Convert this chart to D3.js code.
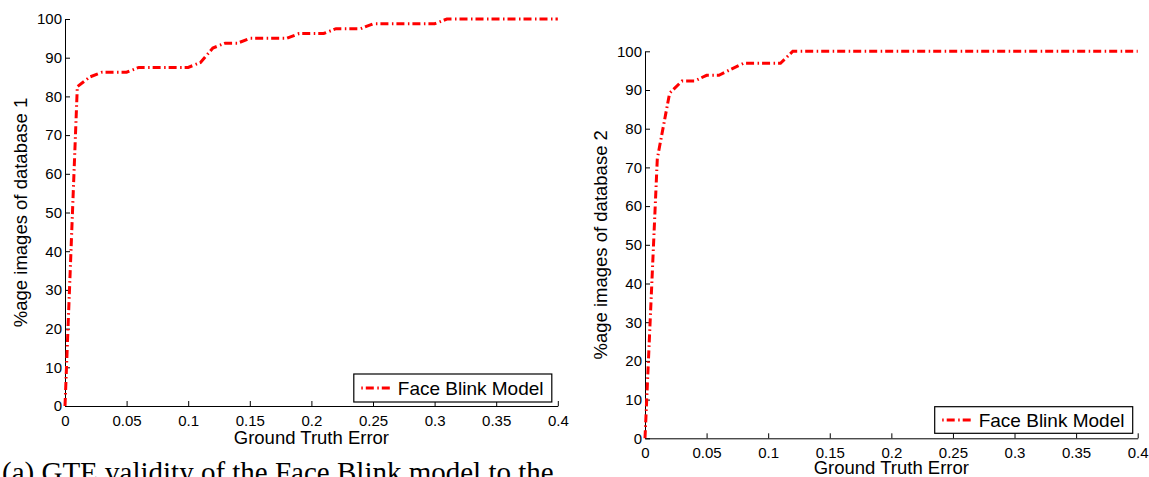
<!DOCTYPE html>
<html><head><meta charset="utf-8">
<script src="https://cdn.jsdelivr.net/npm/d3@7"></script>
<style>
html,body{margin:0;padding:0;background:#fff;overflow:hidden;}
svg{display:block;}
text{font-family:"Liberation Sans",Arial,sans-serif;fill:#000;}
</style></head>
<body>
<svg id="chart" width="1149" height="477"></svg>
<script>
// ---- data ----
const errors = [0,0.01,0.02,0.03,0.04,0.05,0.06,0.07,0.08,0.09,0.10,0.11,0.12,0.13,0.14,0.15,0.16,0.17,0.18,0.19,0.20,
  0.21,0.22,0.23,0.24,0.25,0.26,0.27,0.28,0.29,0.30,0.31,0.32,0.33,0.34,0.35,0.36,0.37,0.38,0.39,0.40];
const db1Values = [0,82.5,85,86.25,86.25,86.25,87.5,87.5,87.5,87.5,87.5,88.75,92.5,93.75,93.75,95,95,95,95,96.25,96.25,
  96.25,97.5,97.5,97.5,98.75,98.75,98.75,98.75,98.75,98.75,100,100,100,100,100,100,100,100,100,100];
const db2Values = [0,72.3,89.2,92.3,92.3,93.8,93.8,95.4,96.9,96.9,96.9,96.9,100,100,100,100,100,100,100,100,100,
  100,100,100,100,100,100,100,100,100,100,100,100,100,100,100,100,100,100,100,100];
const xTickValues = [0,0.05,0.1,0.15,0.2,0.25,0.3,0.35,0.4];
const xTickLabels = ["0","0.05","0.1","0.15","0.2","0.25","0.3","0.35","0.4"];
const yTickValues = [0,10,20,30,40,50,60,70,80,90,100];
const yTickLabels = ["0","10","20","30","40","50","60","70","80","90","100"];
const seriesName = "Face Blink Model";
const xLabel = "Ground Truth Error";
const yLabels = ["%age images of database 1","%age images of database 2"];
const caption = "(a) GTE validity of the Face Blink model to the";

const svg = d3.select("#chart");
const DASH = "8,3.5,1.5,3";

const panels = [
  {vals: db1Values, yl: yLabels[0], xr:[65,557.8], yr:[406,19], ylabX:27, xlabY:443.5, legH:28, legOffB:4, legOffR:6},
  {vals: db2Values, yl: yLabels[1], xr:[645,1137.7], yr:[438.3,51.3], ylabX:607, xlabY:474, legH:26.6, legOffB:5, legOffR:5}
];

panels.forEach(p => {
  const x = d3.scaleLinear().domain([0,0.4]).range(p.xr);
  const y = d3.scaleLinear().domain([0,100]).range(p.yr);
  const g = svg.append("g");

  const xa = d3.axisBottom(x).tickValues(xTickValues).tickFormat((d,i)=>xTickLabels[i])
    .tickSizeInner(-5).tickSizeOuter(0).tickPadding(9);
  const gx = g.append("g").attr("transform",`translate(0,${p.yr[0]})`).call(xa);
  const ya = d3.axisLeft(y).tickValues(yTickValues).tickFormat((d,i)=>yTickLabels[i])
    .tickSizeInner(-5).tickSizeOuter(0).tickPadding(3);
  const gy = g.append("g").attr("transform",`translate(${p.xr[0]},0)`).call(ya);
  [gx,gy].forEach(a=>{
    a.selectAll("text").style("font-size","15px").attr("fill","#000").style("font-family","'Liberation Sans',Arial,sans-serif");
    a.select(".domain").attr("stroke","#000");
    a.selectAll(".tick line").attr("stroke","#000");
  });

  g.append("text").attr("x",(p.xr[0]+p.xr[1])/2).attr("y",p.xlabY)
    .attr("text-anchor","middle").style("font-size","18.5px").text(xLabel);
  g.append("text").attr("transform",`translate(${p.ylabX},${(p.yr[0]+p.yr[1])/2}) rotate(-90)`)
    .attr("text-anchor","middle").style("font-size","18.5px").text(p.yl);

  const line = d3.line().x((d,i)=>x(errors[i])).y(d=>y(d));
  g.append("path").datum(p.vals).attr("d",line).attr("fill","none")
    .attr("stroke","#ff0000").attr("stroke-width",3).attr("stroke-dasharray",DASH);

  // legend
  const lw = 198;
  const lx1 = p.xr[1]-p.legOffR, lx0 = lx1-lw;
  const ly1 = p.yr[0]-p.legOffB, ly0 = ly1-p.legH;
  g.append("rect").attr("x",lx0).attr("y",ly0).attr("width",lw).attr("height",p.legH)
    .attr("fill","#fff").attr("stroke","#000").attr("stroke-width",1.2);
  const my = (ly0+ly1)/2;
  g.append("line").attr("x1",lx0+7.5).attr("x2",lx0+39.5).attr("y1",my).attr("y2",my)
    .attr("stroke","#ff0000").attr("stroke-width",3).attr("stroke-dasharray","1.5,3,8,3.5");
  g.append("text").attr("x",lx0+44).attr("y",my).attr("dy","0.36em")
    .style("font-size","19px").text(seriesName);
});

svg.append("text").attr("x",2).attr("y",482)
  .style("font-family","'Liberation Serif','Times New Roman',serif").style("font-size","29px").text(caption);
</script>
</body></html>
